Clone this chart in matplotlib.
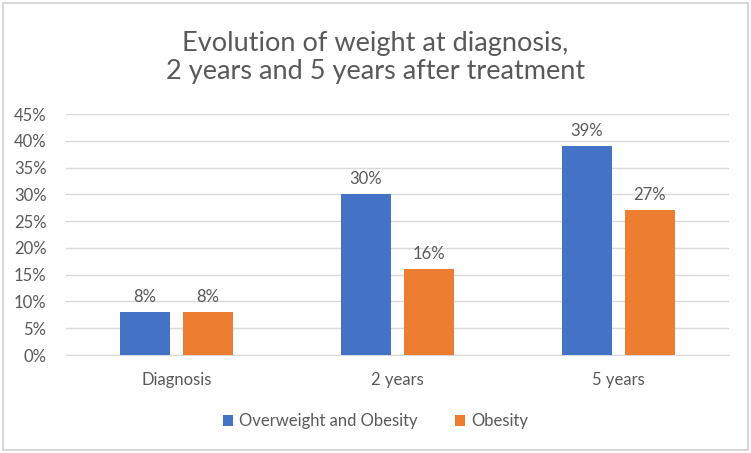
import numpy as np
import matplotlib.pyplot as plt
from matplotlib.patches import Rectangle

plt.rcParams['font.family'] = ['Lato', 'DejaVu Sans']

# Datos
categories = ['Diagnosis', '2 years', '5 years']
overweight_obesity = [8, 30, 39]
obesity = [8, 16, 27]
series_names = ['Overweight and Obesity', 'Obesity']

gray = '#595959'
blue = '#4472C4'
orange = '#ED7D31'

fig = plt.figure(figsize=(7.51, 4.53), dpi=100)
ax = fig.add_axes([0.0879, 0.2163, 0.8828, 0.532])

x = np.arange(len(categories))
w = 0.222
off = 0.1425
b1 = ax.bar(x - off, overweight_obesity, w, color=blue, label=series_names[0], zorder=3)
b2 = ax.bar(x + off, obesity, w, color=orange, label=series_names[1], zorder=3)

for bars, vals in [(b1, overweight_obesity), (b2, obesity)]:
    for b, v in zip(bars, vals):
        ax.annotate(f'{v}%', (b.get_x() + b.get_width() / 2, v), xytext=(0, 5),
                    textcoords='offset points', ha='center', va='bottom',
                    fontsize=12, color=gray)

ax.set_xlim(-0.5, 2.5)
ax.set_ylim(0, 45)
ax.set_yticks(np.arange(0, 46, 5))
ax.set_yticklabels([f'{t}%' for t in range(0, 46, 5)])
ax.set_xticks(x)
ax.set_xticklabels(categories)
ax.tick_params(axis='both', length=0, labelsize=12, labelcolor=gray)
ax.tick_params(axis='y', pad=14)
ax.tick_params(axis='x', pad=12)
ax.grid(axis='y', color='#d9d9d9', linewidth=1, zorder=0)
for s in ['top', 'right', 'left']:
    ax.spines[s].set_visible(False)
ax.spines['bottom'].set_color('#d9d9d9')

fig.text(0.5, 0.872, 'Evolution of weight at diagnosis,\n2 years and 5 years after treatment',
         ha='center', va='center', fontsize=19.5, color=gray, linespacing=1.15)

leg = fig.legend(handles=[b1, b2], loc='center', bbox_to_anchor=(0.5, 0.07), ncol=2,
                 frameon=False, fontsize=12, handlelength=0.6, handleheight=0.6,
                 handletextpad=0.4, columnspacing=2.2)
for t in leg.get_texts():
    t.set_color(gray)

fig.patches.append(Rectangle((0.004, 0.006), 0.992, 0.988, transform=fig.transFigure,
                             fill=False, edgecolor='#d0d0d0', linewidth=1.2))

fig.savefig('out.png', dpi=100)
